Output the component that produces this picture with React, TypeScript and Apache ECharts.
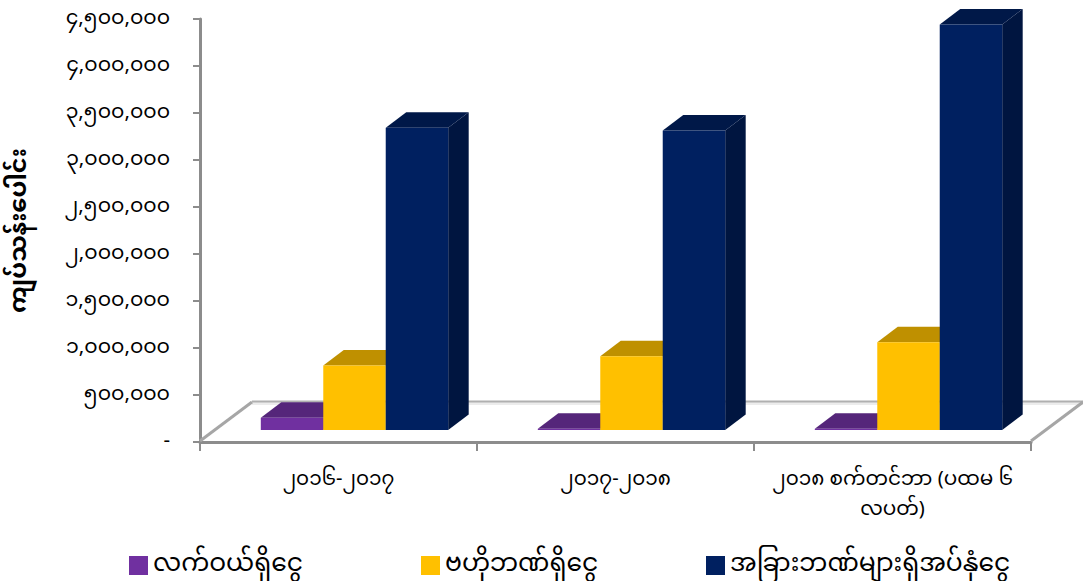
import React, { useEffect, useRef } from "react";
import * as echarts from "echarts";

const FONT = '"Noto Sans Myanmar", "Padauk", "Myanmar Text", "Noto Sans", "DejaVu Sans", sans-serif';

const categories = ["၂၀၁၆-၂၀၁၇", "၂၀၁၇-၂၀၁၈", "၂၀၁၈ စက်တင်ဘာ (ပထမ ၆\nလပတ်)"];
const seriesNames = ["လက်ဝယ်ရှိငွေ", "ဗဟိုဘဏ်ရှိငွေ", "အခြားဘဏ်များရှိအပ်နှံငွေ"];
const cashInHand = [130000, 12000, 12000];
const atCentralBank = [686000, 785000, 934000];
const depositsAtOtherBanks = [3215000, 3186000, 4314000];
const yTickLabels = ["-", "၅၀၀,၀၀၀", "၁,၀၀၀,၀၀၀", "၁,၅၀၀,၀၀၀", "၂,၀၀၀,၀၀၀", "၂,၅၀၀,၀၀၀", "၃,၀၀၀,၀၀၀", "၃,၅၀၀,၀၀၀", "၄,၀၀၀,၀၀၀", "၄,၅၀၀,၀၀၀"];
const yAxisTitle = "ကျပ်သန်းပေါင်း";
const legendLefts = [124, 416, 701];

const faceColors = [
  { front: "#7030A0", top: "#55267A", side: "#4A1F6C" },
  { front: "#FFC000", top: "#BF9000", side: "#A67C00" },
  { front: "#002060", top: "#001848", side: "#001540" },
];

// Oblique projection of the bar boxes on the chart floor.
const LIFT_X = 16;
const LIFT_Y = 12;
const DEPTH_X = 20.5;
const DEPTH_Y = 15.5;
const BAR_SHARE = 0.2255;

const makeBoxRenderer = (seriesIdx: number) => (_params: any, api: any) => {
  const catIdx = api.value(0);
  const value = api.value(1);
  const [cx, baseY] = api.coord([catIdx, 0]);
  const [, topValueY] = api.coord([catIdx, value]);
  const w = api.size([1, 0])[0] * BAR_SHARE;
  const x0 = cx + LIFT_X + (seriesIdx - 1.5) * w;
  const x1 = x0 + w;
  const yb = baseY - LIFT_Y;
  const yt = topValueY - LIFT_Y;
  const c = faceColors[seriesIdx];
  return {
    type: "group",
    children: [
      { type: "polygon", shape: { points: [[x1, yb], [x1 + DEPTH_X, yb - DEPTH_Y], [x1 + DEPTH_X, yt - DEPTH_Y], [x1, yt]] }, style: { fill: c.side } },
      { type: "polygon", shape: { points: [[x0, yt], [x1, yt], [x1 + DEPTH_X, yt - DEPTH_Y], [x0 + DEPTH_X, yt - DEPTH_Y]] }, style: { fill: c.top } },
      { type: "rect", shape: { x: x0, y: yt, width: w, height: Math.max(yb - yt, 1) }, style: { fill: c.front } },
    ],
  };
};

const makeSeries = (name: string, values: number[], idx: number) => ({
  name,
  type: "custom",
  clip: false,
  z: 3 + idx,
  itemStyle: { color: faceColors[idx].front },
  encode: { x: 0, y: 1 },
  data: values.map((v, i) => [i, v]),
  renderItem: makeBoxRenderer(idx),
});

export default function App() {
  const ref = useRef<HTMLDivElement>(null);
  useEffect(() => {
    const chart = echarts.init(ref.current!, undefined, { renderer: "svg" });
    chart.setOption({
      animation: false,
      backgroundColor: "#fff",
      textStyle: { fontFamily: FONT },
      grid: { left: 200, right: 52, top: 19, bottom: 139, outerBoundsMode: "none" },
      graphic: [
        { type: "line", z: 1, shape: { x1: 252, y1: 403.5, x2: 1083, y2: 403.5 }, style: { stroke: "#ececec", lineWidth: 3 } },
        { type: "line", z: 1, shape: { x1: 252, y1: 401.5, x2: 1083, y2: 401.5 }, style: { stroke: "#b0b0b0", lineWidth: 2 } },
        { type: "line", z: 1, shape: { x1: 200, y1: 441, x2: 252, y2: 402 }, style: { stroke: "#a6a6a6", lineWidth: 3 } },
        { type: "line", z: 1, shape: { x1: 1031, y1: 441, x2: 1083, y2: 402 }, style: { stroke: "#a6a6a6", lineWidth: 3 } },
      ],
      legend: seriesNames.map((name, i) => ({
        left: legendLefts[i],
        top: 548,
        itemWidth: 19,
        itemHeight: 19,
        icon: "rect",
        textStyle: { fontSize: 25, color: "#000", fontFamily: FONT, padding: [0, 0, 4, 0] },
        data: [name],
      })),
      xAxis: {
        type: "category",
        data: categories,
        axisLine: { lineStyle: { color: "#8c8c8c", width: 3 } },
        axisTick: { show: true, length: 9, lineStyle: { color: "#8c8c8c", width: 2 } },
        axisLabel: { color: "#000", fontSize: 20, margin: 23, lineHeight: 30, fontFamily: FONT, interval: 0 },
      },
      yAxis: {
        type: "value",
        min: 0,
        max: 4500000,
        interval: 500000,
        name: yAxisTitle,
        nameLocation: "middle",
        nameRotate: 90,
        nameGap: 168,
        nameTextStyle: { color: "#000", fontSize: 24, fontWeight: "bold", fontFamily: FONT },
        axisLine: { show: true, lineStyle: { color: "#8c8c8c", width: 3 } },
        axisTick: { show: true, length: 7, lineStyle: { color: "#8c8c8c", width: 2 } },
        splitLine: { show: false },
        axisLabel: {
          color: "#000",
          fontSize: 20.5,
          margin: 30,
          fontFamily: FONT,
          formatter: (_v: number, i: number) => yTickLabels[i],
        },
      },
      series: [
        makeSeries(seriesNames[0], cashInHand, 0),
        makeSeries(seriesNames[1], atCentralBank, 1),
        makeSeries(seriesNames[2], depositsAtOtherBanks, 2),
      ],
    });
    return () => chart.dispose();
  }, []);
  return <div ref={ref} style={{ position: "absolute", left: 0, top: 0, width: 1083, height: 581 }} />;
}
